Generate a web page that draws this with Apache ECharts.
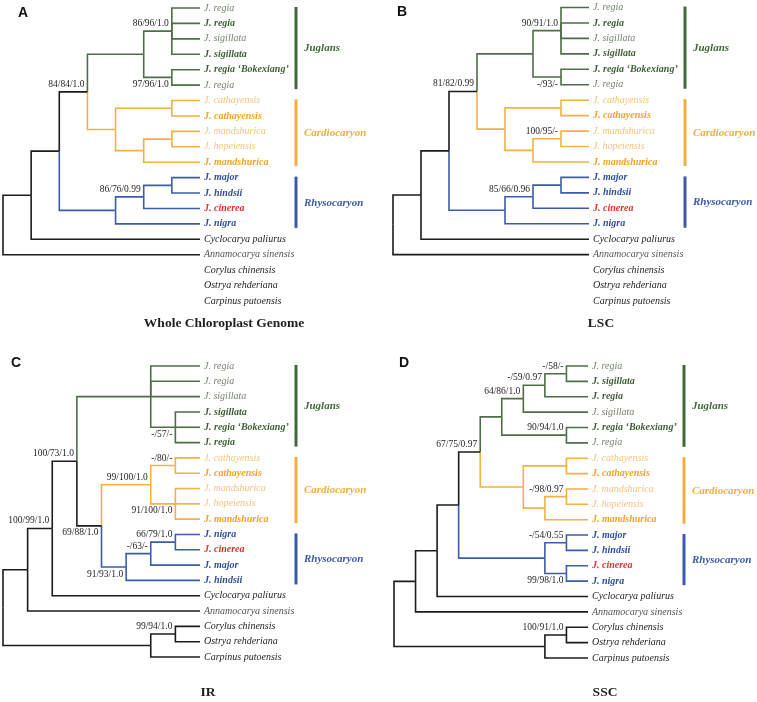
<!DOCTYPE html>
<html><head><meta charset="utf-8">
<script src="https://cdn.jsdelivr.net/npm/echarts@6/dist/echarts.min.js"></script>
<style>html,body{margin:0;padding:0;background:#fff}#c{width:757px;height:702px}</style>
</head><body><div id="c"></div>
<script>
// ---- data ----
var leavesAB = ['J. regia','J. regia','J. sigillata','J. sigillata','J. regia \u2018Bokexiang\u2019','J. regia','J. cathayensis','J. cathayensis','J. mandshurica','J. hopeiensis','J. mandshurica','J. major','J. hindsii','J. cinerea','J. nigra','Cyclocarya paliurus','Annamocarya sinensis','Corylus chinensis','Ostrya rehderiana','Carpinus putoensis'];
var styleAB  = ['Jn','Jb','Jn','Jb','Jb','Jn','Cn','Cb','Cn','Cn','Cb','Rb','Rb','Rr','Rb','K','G','K','K','K'];
var leavesC = ['J. regia','J. regia','J. sigillata','J. sigillata','J. regia \u2018Bokexiang\u2019','J. regia','J. cathayensis','J. cathayensis','J. mandshurica','J. hopeiensis','J. mandshurica','J. nigra','J. cinerea','J. major','J. hindsii','Cyclocarya paliurus','Annamocarya sinensis','Corylus chinensis','Ostrya rehderiana','Carpinus putoensis'];
var styleC  = ['Jn','Jn','Jn','Jb','Jb','Jb','Cn','Cb','Cn','Cn','Cb','Rb','Rr','Rb','Rb','K','G','K','K','K'];
var leavesD = ['J. regia','J. sigillata','J. regia','J. sigillata','J. regia \u2018Bokexiang\u2019','J. regia','J. cathayensis','J. cathayensis','J. mandshurica','J. hopeiensis','J. mandshurica','J. major','J. hindsii','J. cinerea','J. nigra','Cyclocarya paliurus','Annamocarya sinensis','Corylus chinensis','Ostrya rehderiana','Carpinus putoensis'];
var styleD  = ['Jn','Jb','Jb','Jn','Jb','Jn','Cn','Cb','Cn','Cn','Cb','Rb','Rb','Rr','Rb','K','G','K','K','K'];
// topologies (newick-like: leaf indices; [support] above branch, {support} below branch)
var treeA = "((((((0,1,2,3)[86/96/1.0],(4,5){97/96/1.0}),((6,7),((8,9),10)))[84/84/1.0],(((11,12),13)[86/76/0.99],14)),15),16),((17,18)[100/78/1.0],19))";
var treeB = "((((((0,1,2,3)[90/91/1.0],(4,5){-/93/-}),((6,7),((8,9)[100/95/-],10)))[81/82/0.99],(((11,12),13)[85/66/0.96],14)),15),16),((17,18)[100/91/1.0],19))";
var treeC = "(((((0,1,2,(3,4,5){-/57/-}),(((6,7)[-/80/-],(8,9,10){91/100/1.0})[99/100/1.0],(((11,12)[66/79/1.0],13)[-/63/-],14){91/93/1.0}){69/88/1.0})[100/73/1.0],15)[100/99/1.0],16),((17,18)[99/94/1.0],19))";
var treeD = "(((((((((0,1)[-/58/-],2)[-/59/0.97],3)[64/86/1.0],(4,5)[90/94/1.0]),((6,7),((8,9)[-/98/0.97],10)))[67/75/0.97],((11,12)[-/54/0.55],(13,14){99/98/1.0})),15),16),((17,18)[100/91/1.0],19))";
var cladeNames = ['Juglans','Cardiocaryon','Rhysocaryon'];
var cladeRanges = [[0,5],[6,10],[11,14]];
var panelTitles = ['Whole Chloroplast Genome','LSC','IR','SSC'];
var panelLetters = ['A','B','C','D'];
</script>
<script>
{
  const parseTree = function(str){
    let pos = 0;
    const readNode = function(){
      if (str[pos] === '(') {
        pos++;
        const kids = [];
        let going = true;
        while (going) {
          kids.push(readNode());
          if (str[pos] === ',') { pos++; } else { pos++; going = false; }
        }
        const node = {c:kids, s:null, below:false};
        if (str[pos] === '[' || str[pos] === '{') {
          const close = str[pos] === '[' ? ']' : '}';
          node.below = str[pos] === '{';
          const end = str.indexOf(close, pos);
          node.s = str.slice(pos + 1, end);
          pos = end + 1;
        }
        return node;
      }
      let num = '';
      while (/[0-9]/.test(str[pos] || '')) { num += str[pos]; pos++; }
      return parseInt(num, 10);
    };
    return readNode();
  };

  const panels = [
    {tree:parseTree(treeA), leaves:leavesAB, styles:styleAB},
    {tree:parseTree(treeB), leaves:leavesAB, styles:styleAB},
    {tree:parseTree(treeC), leaves:leavesC, styles:styleC},
    {tree:parseTree(treeD), leaves:leavesD, styles:styleD}
  ];

  const GRIDS = [
    {left:3, top:8, width:197, height:293},
    {left:393, top:7.5, width:196, height:293.5},
    {left:3, top:366, width:197, height:291},
    {left:394, top:366, width:194, height:292}
  ];
  const TITLE_POS = [[224,324],[601,324],[208,693],[605,693]];
  const LETTER_POS = [[18,13],[397,12],[11,363],[399,363]];
  const EDGE_COL = {J:'#4d6f45', C:'#f2b144', R:'#3d5ca8', O:'#1c1c1c'};
  const BAR_COL = {J:'#3f6a38', C:'#f2ae40', R:'#3b5aa8'};
  const TEXT_STYLE = {
    Jn:['#72856b','normal'], Jb:['#3e5f36','bold'], Cn:['#f5c47a','normal'], Cb:['#f0a32c','bold'],
    Rb:['#2f4e9f','bold'], Rr:['#e6302a','bold'], K:['#1e1e1e','normal'], G:['#555555','normal']
  };
  const SERIF = "'Liberation Serif','Times New Roman',serif";

  const layoutTree = function(node, styles, edges, supports){
    if (typeof node === 'number'){
      const k0 = styles[node][0];
      const cl0 = (k0 === 'K' || k0 === 'G') ? 'O' : k0;
      return {h:0, y:node, clades:[cl0]};
    }
    const kids = node.c.map(function(k){ return layoutTree(k, styles, edges, supports); });
    const h = Math.max.apply(null, kids.map(function(k){ return k.h; })) + 1;
    const y = (kids[0].y + kids[kids.length - 1].y) / 2;
    const clades = [];
    kids.forEach(function(k){ k.clades.forEach(function(c){ if (clades.indexOf(c) === -1) clades.push(c); }); });
    kids.forEach(function(k){
      const cl = k.clades.length === 1 ? k.clades[0] : 'O';
      edges.push([h, y, k.h, k.y, EDGE_COL[cl]]);
    });
    node.c.forEach(function(k, i){
      if (typeof k !== 'number' && k.s) supports.push([kids[i].h, kids[i].y, k.s, k.below]);
    });
    return {h:h, y:y, clades:clades};
  };

  const grid = [], xAxis = [], yAxis = [], series = [], graphic = [];
  panels.forEach(function(p, pi){
    const edges = [], supports = [];
    const root = layoutTree(p.tree, p.styles, edges, supports);
    grid.push(GRIDS[pi]);
    xAxis.push({type:'value', gridIndex:pi, min:0, max:root.h, inverse:true, show:false});
    yAxis.push({type:'value', gridIndex:pi, min:0, max:p.leaves.length - 1, inverse:true, show:false});
    series.push({
      type:'custom', xAxisIndex:pi, yAxisIndex:pi, silent:true,
      data: edges.map(function(e){ return [e[0], e[1], e[2], e[3]]; }),
      renderItem: function(params, api){
        const e = edges[params.dataIndex];
        const a = api.coord([e[0], e[1]]), b = api.coord([e[2], e[3]]);
        return {type:'polyline', shape:{points:[a, [a[0], b[1]], b]},
          style:{stroke:e[4], lineWidth:1.6, fill:null, lineJoin:'miter'}};
      }
    });
    series.push({
      type:'custom', xAxisIndex:pi, yAxisIndex:pi, silent:true,
      data: p.leaves.map(function(n, i){ return [0, i]; }),
      renderItem: function(params, api){
        const i = params.dataIndex;
        const c = api.coord([0, i]);
        const st = TEXT_STYLE[p.styles[i]];
        return {type:'text', x:c[0] + 4, y:c[1],
          style:{text:p.leaves[i], fill:st[0], font:'italic ' + st[1] + ' 10px ' + SERIF,
            textAlign:'left', textVerticalAlign:'middle', align:'left', verticalAlign:'middle'}};
      }
    });
    series.push({
      type:'custom', xAxisIndex:pi, yAxisIndex:pi, silent:true,
      data: supports.map(function(s){ return [s[0], s[1]]; }),
      renderItem: function(params, api){
        const s = supports[params.dataIndex];
        const c = api.coord([s[0], s[1]]);
        const va = s[3] ? 'top' : 'bottom';
        return {type:'text', x:c[0] - 3, y:s[3] ? c[1] + 2 : c[1] - 2.5,
          style:{text:s[2], fill:'#1e1e1e', font:'9.5px ' + SERIF,
            textAlign:'right', textVerticalAlign:va, align:'right', verticalAlign:va}};
      }
    });
    series.push({
      type:'custom', xAxisIndex:pi, yAxisIndex:pi, silent:true,
      data: cladeRanges.map(function(r){ return [0, r[0], r[1]]; }),
      renderItem: function(params, api){
        const i = params.dataIndex, key = 'JCR'.charAt(i);
        const a = api.coord([0, cladeRanges[i][0]]), b = api.coord([0, cladeRanges[i][1]]);
        const x = a[0] + 96;
        return {type:'group', children:[
          {type:'rect', shape:{x:x - 1.5, y:a[1] - 1, width:3, height:b[1] - a[1] + 5}, style:{fill:BAR_COL[key]}},
          {type:'text', x:x + 8, y:(a[1] + b[1]) / 2 + 2,
            style:{text:cladeNames[i], fill:BAR_COL[key], font:'italic bold 11px ' + SERIF,
              textAlign:'left', textVerticalAlign:'middle', align:'left', verticalAlign:'middle'}}
        ]};
      }
    });
    graphic.push({type:'text', x:TITLE_POS[pi][0], y:TITLE_POS[pi][1],
      style:{text:panelTitles[pi], fill:'#1e1e1e', font:'bold 13.5px ' + SERIF,
        textAlign:'center', textVerticalAlign:'middle', align:'center', verticalAlign:'middle'}});
    graphic.push({type:'text', x:LETTER_POS[pi][0], y:LETTER_POS[pi][1],
      style:{text:panelLetters[pi], fill:'#111', font:"bold 14px 'Liberation Sans',Arial,sans-serif",
        textAlign:'left', textVerticalAlign:'middle', align:'left', verticalAlign:'middle'}});
  });

  const chart = echarts.init(document.getElementById('c'), null, {renderer:'canvas'});
  chart.setOption({backgroundColor:'#fff', animation:false, grid:grid, xAxis:xAxis, yAxis:yAxis, series:series, graphic:graphic});
}
</script></body></html>
